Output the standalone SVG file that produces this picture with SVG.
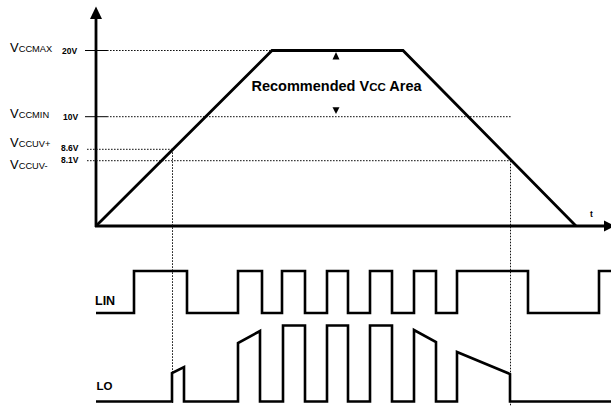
<svg xmlns="http://www.w3.org/2000/svg" width="611" height="406" viewBox="0 0 611 406">
<style>
  text { font-family: "Liberation Sans", Arial, sans-serif; fill: #000; }
  .lbl { font-size: 13px; }
  .sub { font-size: 9.3px; }
  .val { font-size: 8.5px; font-weight: bold; }
  .sig { font-weight: bold; }
  .thick { fill: none; stroke: #000; stroke-width: 2.8; stroke-linejoin: miter; }
  .wave { fill: none; stroke: #000; stroke-width: 2.6; stroke-linejoin: miter; }
  .dot { fill: none; stroke: #111; stroke-width: 1; stroke-dasharray: 1.6 1.4; }
  .tick { stroke: #000; stroke-width: 1; }
</style>
<rect x="0" y="0" width="611" height="406" fill="#fff"/>

<g id="axes">
  <line class="thick" x1="96" y1="227" x2="96" y2="17"/>
  <polygon points="90,19 96,6.5 102,19" fill="#000"/>
  <line class="thick" x1="95" y1="226" x2="606" y2="226"/>
  <polygon points="604,220.5 615,226 604,231.5" fill="#000"/>
  <text x="590" y="217" style="font-size:8.5px;font-weight:bold">t</text>
</g>

<g id="connectors">
  <line class="tick" x1="85" y1="50.5" x2="107" y2="50.5"/>
  <line class="dot" x1="107" y1="50.5" x2="270" y2="50.5"/>
  <line class="tick" x1="85" y1="116.7" x2="107" y2="116.7"/>
  <line class="dot" x1="107" y1="116.7" x2="511" y2="116.7"/>
  <line class="dot" x1="87" y1="149.3" x2="172" y2="149.3"/>
  <line class="dot" x1="87" y1="160.7" x2="510" y2="160.7"/>
  <line class="dot" x1="172.5" y1="149.3" x2="172.5" y2="404"/>
  <line class="dot" x1="510.5" y1="160.7" x2="510.5" y2="406"/>
</g>

<g id="vcc-curve">
  <path class="thick" d="M96,226 L272,50.5 H403 L576,226"/>
  <polygon points="332.5,59.5 336,52 339.5,59.5" fill="#000"/>
  <polygon points="332.5,107.3 336,114 339.5,107.3" fill="#000"/>
  <text x="251.5" y="90.7" style="font-size:14.5px;font-weight:bold">Recommended V<tspan style="font-size:11.5px">CC</tspan> Area</text>
</g>

<g id="labels">
  <text x="10" y="52" class="lbl">V<tspan class="sub">CCMAX</tspan></text>
  <text x="62" y="53.5" class="val">20V</text>
  <text x="10" y="117.5" class="lbl">V<tspan class="sub">CCMIN</tspan></text>
  <text x="63" y="119.5" class="val">10V</text>
  <text x="10" y="146.5" class="lbl">V<tspan class="sub">CCUV+</tspan></text>
  <text x="61" y="151" class="val">8.6V</text>
  <text x="10" y="168.5" class="lbl">V<tspan class="sub">CCUV-</tspan></text>
  <text x="61" y="162.5" class="val">8.1V</text>
</g>

<g id="lin">
  <text x="95" y="305" class="sig" style="font-size:12.5px">LIN</text>
  <path class="wave" d="M96,313 H134 V271 H187 V313 H238 V271 H262 V313 H282 V271 H305 V313 H327 V271 H348 V313 H370 V271 H392 V313 H414 V271 H436 V313 H457 V271 H528 V313 H599 V271 H612"/>
</g>

<g id="lo">
  <text x="96.5" y="390" class="sig" style="font-size:11.5px">LO</text>
  <path class="wave" d="M96,401.5 H172 V373 L184,367 V401.5 H238 V343 L260,331 V401.5 H283 V325.5 H305 V401.5 H327 V325.5 H348 V401.5 H370 V325.5 H392 V401.5 H414 V330 L436,342 V401.5 H457 V352 L510,374 V401.5 H612"/>
</g>
</svg>
